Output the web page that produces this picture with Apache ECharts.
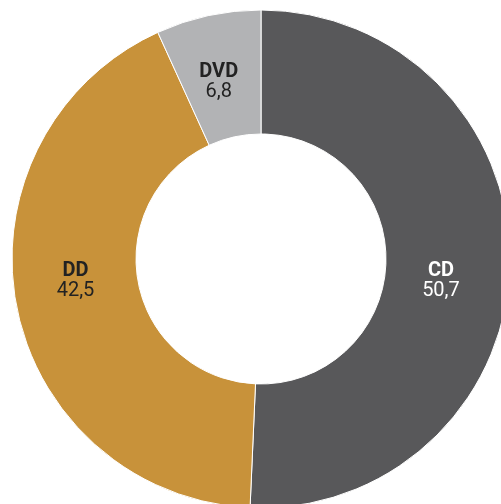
<!DOCTYPE html>
<html><head><meta charset="utf-8">
<script src="https://cdn.jsdelivr.net/npm/echarts@6/dist/echarts.min.js"></script>
<style>html,body{margin:0;padding:0;background:#fff}#c{width:501px;height:504px}</style>
</head><body><div id="c"></div>
<script>
const categories = ['CD', 'DD', 'DVD'];
const values = [50.7, 42.5, 6.8];

// styling (not data)
const colors = ['#58585a', '#c8923a', '#b2b3b5'];
const labelColors = ['#ffffff', '#222222', '#222222'];
const labelOffsets = [[-10, 18], [1, -14], [-2, 9]];

const chart = echarts.init(document.getElementById('c'), null, {renderer: 'canvas'});
chart.setOption({
  animation: false,
  series: [{
    type: 'pie',
    center: [261, 259],
    radius: [125, 249],
    startAngle: 90,
    clockwise: true,
    label: {
      position: 'inside',
      fontFamily: 'Roboto',
      fontSize: 20,
      lineHeight: 20,
      formatter: p => '{b|' + p.name + '}\n{v|' + String(p.value).replace('.', ',') + '}',
      rich: {
        b: {fontWeight: 'bold', fontSize: 20, fontFamily: 'Roboto', lineHeight: 20},
        v: {fontSize: 20, fontFamily: 'Roboto', lineHeight: 20}
      }
    },
    itemStyle: {borderColor: '#ffffff', borderWidth: 1},
    data: categories.map((c, i) => ({
      name: c, value: values[i],
      itemStyle: {color: colors[i]},
      label: {color: labelColors[i], offset: labelOffsets[i],
        rich: {b: {color: labelColors[i]}, v: {color: labelColors[i]}}}
    }))
  }]
});
</script></body></html>
